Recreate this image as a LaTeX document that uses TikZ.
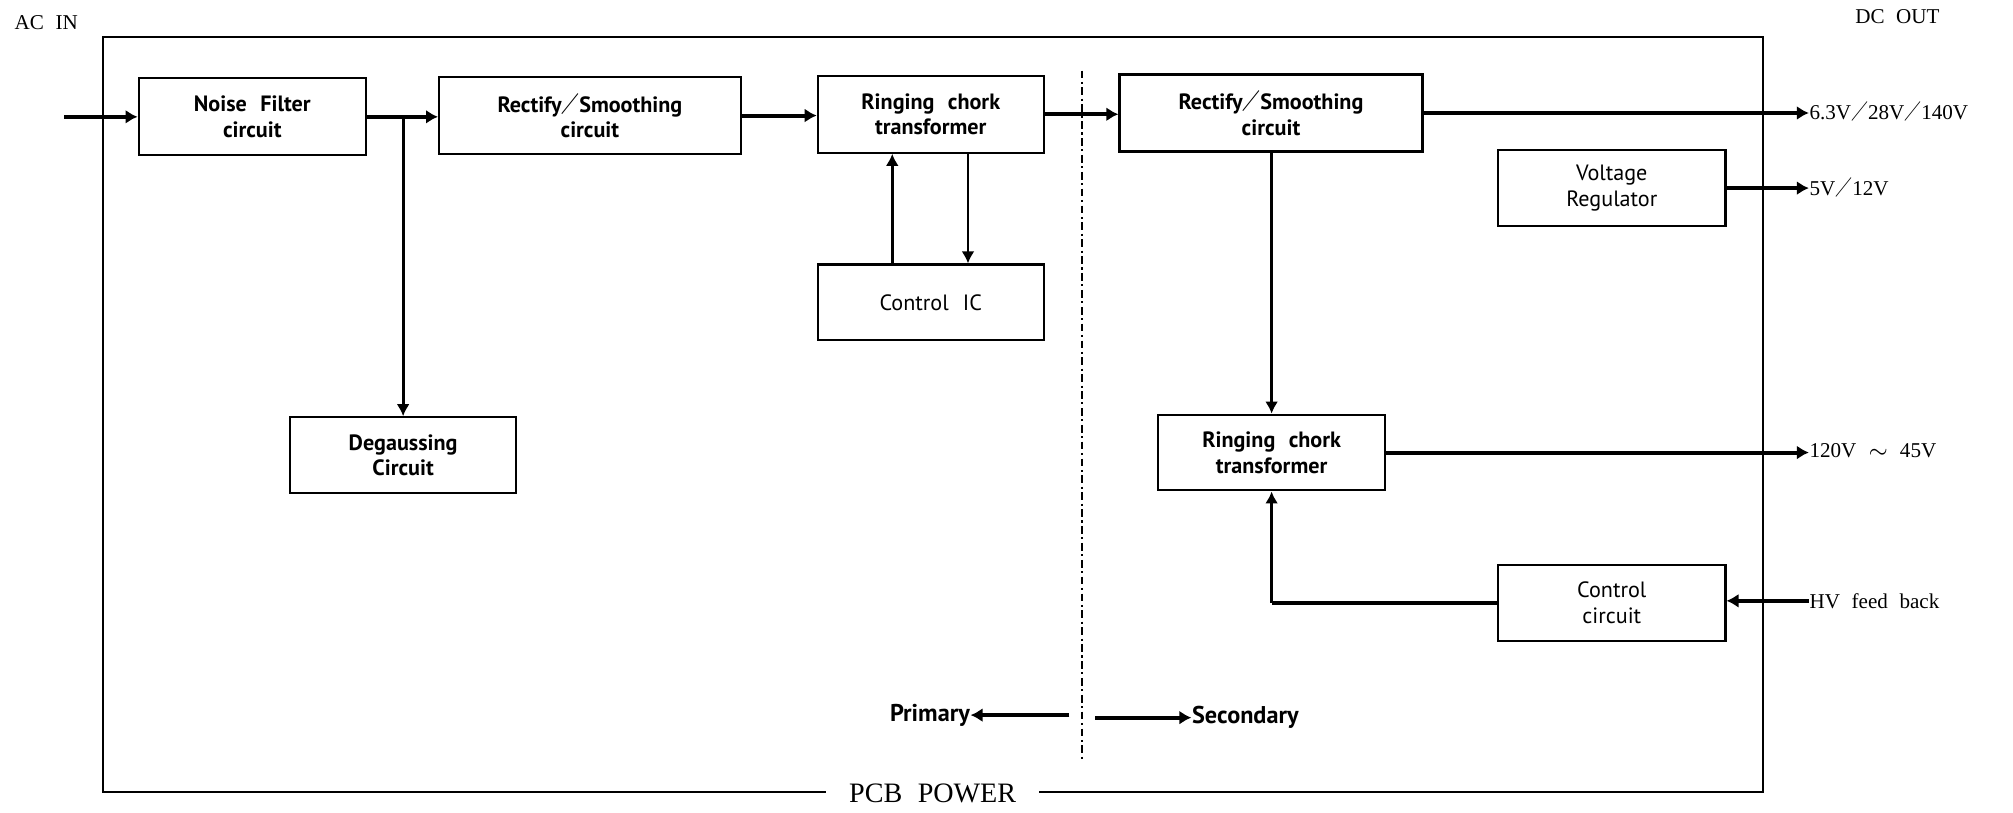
\documentclass[tikz,border=0pt]{standalone}
\usepackage{fontspec}
\setmainfont{Liberation Serif}[WordSpace=2.2]
\newfontfamily\boxfont{PT Sans}[WordSpace=2.4]
\newfontfamily\cjk{Noto Sans CJK SC}[FakeStretch=0.8]
\newcommand\fsl{{\cjk ／}}
\usetikzlibrary{arrows.meta}
\newlength\pxu
\setlength\pxu{0.12838mm}
\tikzset{
  box/.style={draw, line width=0.6pt, inner sep=0pt, align=center,
    font=\boxfont\bfseries\fontsize{6.3}{7.3}\selectfont,
    minimum width=177\pxu, minimum height=60\pxu},
  lbox/.style={box, font=\boxfont\fontsize{6.3}{7.3}\selectfont},
  lab/.style={inner sep=0pt, font=\fontsize{6}{7}\selectfont},
  slab/.style={inner sep=0pt, font=\boxfont\bfseries\fontsize{6.9}{8}\selectfont},
  thickarrow/.style={line width=1.15pt, -{Latex[length=1.2mm,width=1.4mm]}},
  medarrow/.style={line width=0.85pt, -{Latex[length=1.2mm,width=1.3mm]}},
  thickline/.style={line width=1.15pt},
  frame/.style={draw, line width=0.6pt},
}
\begin{document}
\begin{tikzpicture}[x=\pxu, y=-\pxu]
\useasboundingbox (0,0) rectangle (1568,633);

% outer PCB frame
\node[frame, minimum width=1293\pxu, minimum height=588\pxu, inner sep=0pt] (pcb) at (726.5,323) {};
\node[fill=white, inner xsep=2.3mm, inner ysep=0.6mm, font=\fontsize{8}{9}\selectfont] (pcbl) at (pcb.south) {PCB POWER};

% top labels
\node[lab] (acin) at (36,18) {AC IN};
\node[lab] (dcout) at (1478,13) {DC OUT};

% boxes
\node[box] (nf) at (196.5,91) {Noise Filter\\circuit};
\node[box, minimum width=235\pxu] (rs1) at (459.5,90) {Rectify\fsl Smoothing\\circuit};
\node[box, minimum width=176\pxu] (rc1) at (725,89) {Ringing chork\\transformer};
\node[lbox, minimum width=176\pxu, minimum height=59\pxu] (cic) at (725,235.5) {Control IC};
\node[box, minimum width=176\pxu, minimum height=59\pxu] (deg) at (314,354.5) {Degaussing\\Circuit};
\node[box, minimum width=236\pxu] (rs2) at (990,88) {Rectify\fsl Smoothing\\circuit};
\node[lbox, minimum height=59\pxu] (vr) at (1255.5,146.5) {Voltage\\Regulator};
\node[box, minimum height=59\pxu] (rc2) at (990.5,352.5) {Ringing chork\\transformer};
\node[lbox, minimum height=59\pxu] (cc) at (1255.5,469.5) {Control\\circuit};

% output labels
\node[lab, anchor=west] (o1) at (1409,87) {6.3V\fsl 28V\fsl 140V};
\node[lab, anchor=west] (o2) at (1409,146) {5V\fsl 12V};
\node[lab, anchor=west] (o3) at (1409,351) {120V $\sim$ 45V};
\node[lab, anchor=west] (hv) at (1409,468) {HV feed back};

% primary / secondary
\node[slab, anchor=east] (prim) at (756,557) {Primary};
\node[slab, anchor=west] (sec) at (928,559) {Secondary};
\coordinate (pa) at (833,557);
\coordinate (sa) at (853,559);
\draw[thickarrow] (pa) -- (prim.east);
\draw[thickarrow] (sa) -- (sec.west);

% divider
\coordinate (dt) at (843,55);
\coordinate (db) at (843,593);
\draw[line width=0.6pt, dash pattern=on 2.2pt off 1pt on 0.6pt off 1pt] (dt) -- (db);

% primary side connections
\coordinate (in) at (50,91);
\draw[thickarrow] (in) -- (nf.west);
\draw[thickarrow] (nf.east) -- (nf.east -| rs1.west);
\coordinate (j1) at (nf.east -| deg.north);
\draw[medarrow] (j1) -- (deg.north);
\draw[thickarrow] (rs1.east) -- (rs1.east -| rc1.west);
\draw[medarrow] ([xshift=-30\pxu]cic.north) -- ([xshift=-30\pxu]rc1.south);
\draw[medarrow] ([xshift=29\pxu]rc1.south) -- ([xshift=29\pxu]cic.north);
\draw[thickarrow] (rc1.east) -- (rc1.east -| rs2.west);

% secondary side connections
\draw[thickarrow] (rs2.east) -- (rs2.east -| o1.west);
\draw[thickarrow] (vr.east) -- (vr.east -| o2.west);
\draw[medarrow] (rc2.north |- rs2.south) -- (rc2.north);
\draw[thickarrow] (rc2.east) -- (rc2.east -| o3.west);
\draw[thickarrow] (hv.west) -- (hv.west -| cc.east);
\coordinate (j2) at (cc.west -| rc2.south);
\draw[thickline] (cc.west) -- (j2);
\draw[medarrow] (j2) -- (rc2.south);
\end{tikzpicture}
\end{document}
